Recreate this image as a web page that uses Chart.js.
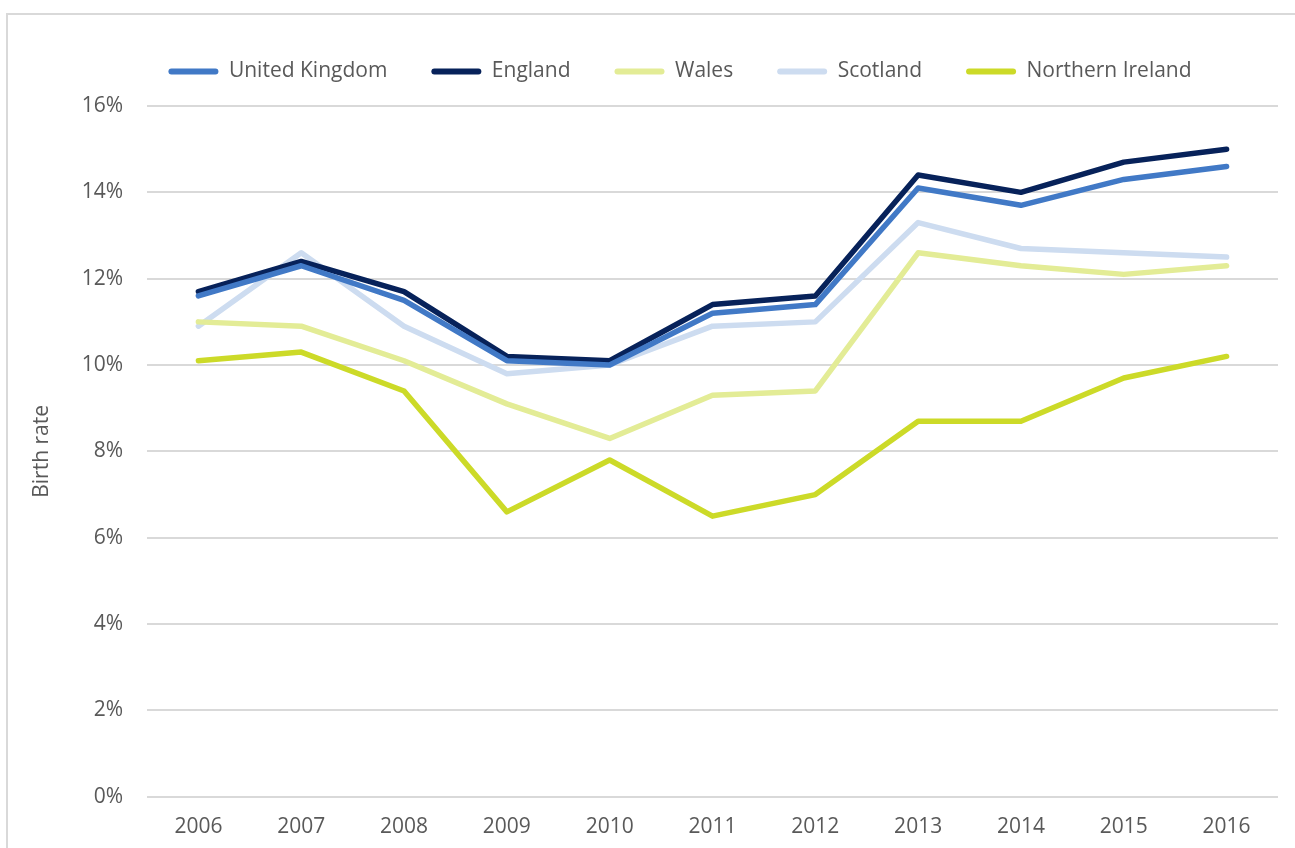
<!DOCTYPE html>
<html>
<head>
<meta charset="utf-8">
<script src="https://cdn.jsdelivr.net/npm/chart.js@4/dist/chart.umd.min.js"></script>
<style>
  html, body { margin: 0; padding: 0; background: #fff; overflow: hidden; }
  #wrap { position: absolute; left: 0; top: 0; width: 1295px; height: 848px; overflow: hidden; }
  #frame { position: absolute; left: 6px; top: 13px; width: 1400px; height: 900px; border: 2px solid #d9d9d9; box-sizing: border-box; }
  canvas { position: absolute; left: 0; top: 0; }
</style>
</head>
<body>
<div id="wrap">
  <div id="frame"></div>
  <canvas id="c" width="1295" height="868"></canvas>
</div>
<script>
const years = ['2006','2007','2008','2009','2010','2011','2012','2013','2014','2015','2016'];
const unitedKingdom = [11.6, 12.3, 11.5, 10.1, 10.0, 11.2, 11.4, 14.1, 13.7, 14.3, 14.6];
const england       = [11.7, 12.4, 11.7, 10.2, 10.1, 11.4, 11.6, 14.4, 14.0, 14.7, 15.0];
const wales         = [11.0, 10.9, 10.1, 9.1, 8.3, 9.3, 9.4, 12.6, 12.3, 12.1, 12.3];
const scotland      = [10.9, 12.6, 10.9, 9.8, 10.0, 10.9, 11.0, 13.3, 12.7, 12.6, 12.5];
const northernIreland = [10.1, 10.3, 9.4, 6.6, 7.8, 6.5, 7.0, 8.7, 8.7, 9.7, 10.2];

const FONT = 'Open Sans';
const TXT = '#595959';

function ds(label, data, color) {
  return {
    label, data,
    borderColor: color, backgroundColor: color,
    borderWidth: 5.5, pointRadius: 0, pointHoverRadius: 0,
    tension: 0, borderCapStyle: 'round', borderJoinStyle: 'round', fill: false
  };
}

const legendTweak = {
  id: 'legendTweak',
  afterInit(chart) {
    const lg = chart.legend;
    const origFit = lg.fit;
    lg.fit = function () { origFit.call(this); this.height += 14; };
  },
  beforeDraw(chart) {
    const lg = chart.legend;
    if (!lg || lg._shifted) return;
    const d = 31;
    lg.left += d; lg.right += d;
    lg._shifted = true;
  }
};

new Chart(document.getElementById('c'), {
  type: 'line',
  data: {
    labels: years,
    datasets: [
      ds('United Kingdom', unitedKingdom, '#4179C6'),
      ds('England', england, '#07225A'),
      ds('Wales', wales, '#E3EC96'),
      ds('Scotland', scotland, '#CDDCF0'),
      ds('Northern Ireland', northernIreland, '#CCDA28')
    ]
  },
  plugins: [legendTweak],
  options: {
    responsive: false,
    animation: false,
    events: [],
    layout: { padding: { left: 20, right: 17, top: 17, bottom: 10 } },
    plugins: {
      tooltip: { enabled: false },
      legend: {
        position: 'top',
        labels: {
          font: { family: FONT, size: 21 },
          color: TXT,
          boxWidth: 50,
          boxHeight: 6,
          padding: 44,
          useBorderRadius: true,
          borderRadius: 3,
          generateLabels(chart) {
            return chart.data.datasets.map((d, i) => ({
              text: d.label, fillStyle: d.borderColor, strokeStyle: d.borderColor,
              lineWidth: 0, hidden: false, datasetIndex: i, fontColor: TXT, borderRadius: 3
            }));
          }
        }
      }
    },
    scales: {
      x: {
        type: 'category',
        offset: true,
        grid: { display: false, drawTicks: false },
        border: { display: false },
        ticks: { font: { family: FONT, size: 21 }, color: TXT, padding: 18, maxRotation: 0 }
      },
      y: {
        min: 0, max: 16,
        afterFit(scale) { scale.width = 127; },
        grid: { color: '#d9d9d9', lineWidth: 2, drawTicks: false },
        border: { display: false },
        ticks: {
          stepSize: 2,
          font: { family: FONT, size: 21 },
          color: TXT,
          padding: 24,
          callback: v => v + '%'
        },
        title: {
          display: true, text: 'Birth rate',
          font: { family: FONT, size: 21 }, color: TXT,
          padding: { top: 9, bottom: 0 }
        }
      }
    }
  }
});
</script>
</body>
</html>
